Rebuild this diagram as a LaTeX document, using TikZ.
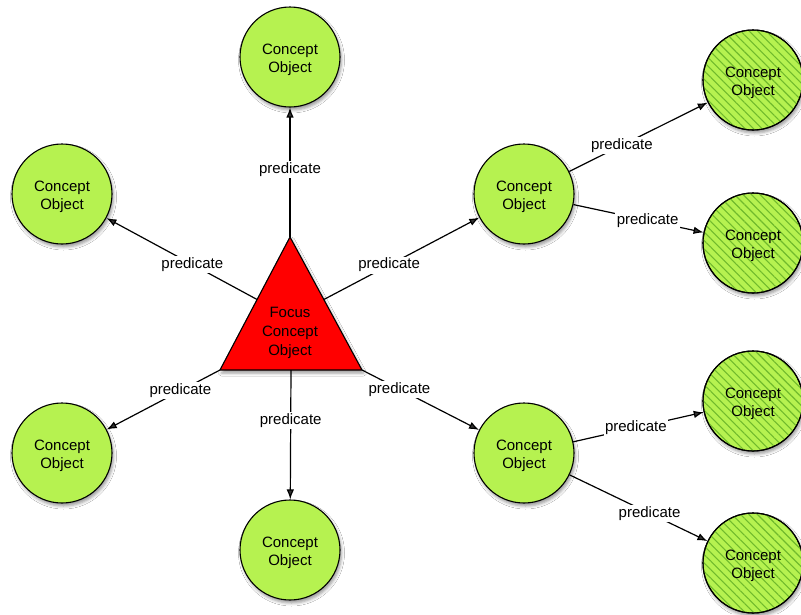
\documentclass[tikz,border=0pt]{standalone}
\usepackage{fontspec}
\setmainfont{Liberation Sans}
\usetikzlibrary{arrows.meta,shadows.blur,patterns.meta,calc}
\definecolor{lime}{RGB}{182,242,80}
\definecolor{hatch}{RGB}{112,186,44}
\definecolor{focusred}{RGB}{255,0,0}
\begin{document}
\begin{tikzpicture}[x=1pt,y=-1pt,
  txt/.style={font=\fontsize{15}{18}\selectfont},
  softshadow/.style={blur shadow={shadow xshift=1.5pt, shadow yshift=-3pt,
      shadow blur radius=3pt, shadow opacity=40}},
  concept/.style={circle, draw=black, line width=1.1pt, fill=lime,
      minimum size=100pt, inner sep=0pt, softshadow,
      label={[txt, align=center, yshift=-2.5pt]center:#1}},
  concept/.default={Concept\\Object},
  remote/.style={concept=#1,
      postaction={pattern={Lines[angle=-45,distance=6pt,line width=1.1pt]},
                  pattern color=hatch},
      postaction={draw=black, line width=1.1pt}},
  remote/.default={Concept\\Object},
  conn/.style={-{Latex[length=10pt,width=7.5pt]}, line width=1.2pt},
  lbl/.style={fill=white, inner sep=1.5pt, txt}]

\useasboundingbox (0,0) rectangle (801,614);
\fill[white] (0,0) rectangle (801,614);

% focus triangle
\coordinate (A) at (290,237);
\coordinate (B) at (220,370);
\coordinate (C) at (362,370);
\path[fill=focusred, draw=black, line width=1.1pt, line join=round, softshadow]
  (A) -- (B) -- (C) -- cycle;
\node[align=center, font=\fontsize{15}{19}\selectfont] (focus) at (290,333)
  {Focus\\Concept\\Object};
\coordinate (L) at ($(A)!0.47!(B)$);
\coordinate (R) at ($(A)!0.47!(C)$);
\coordinate (M) at ($(B)!0.5!(C)$);

% concept objects
\node[concept] (t)  at (290,57)  {};
\node[concept] (lu) at (62,194)  {};
\node[concept] (ll) at (62,453)  {};
\node[concept] (b)  at (290,550) {};
\node[concept] (ru) at (524,194) {};
\node[concept] (rl) at (524,453) {};

% second-level concept objects
\node[remote] (f1) at (753,80)  {};
\node[remote] (f2) at (753,243) {};
\node[remote] (f3) at (753,401) {};
\node[remote] (f4) at (753,563) {};

% predicates from the focus
\draw[conn] (A) -- node[lbl,pos=0.52]{predicate} (t);
\draw[conn] (L) -- node[lbl,pos=0.43]{predicate} (lu);
\draw[conn] (R) -- node[lbl,pos=0.42]{predicate} (ru);
\draw[conn] (B) -- node[lbl,pos=0.35]{predicate} (ll);
\draw[conn] (M) -- node[lbl,pos=0.39]{predicate} (b);
\draw[conn] (C) -- node[lbl,pos=0.32]{predicate} (rl);

% predicates to the second level
\draw[conn] (ru) -- node[lbl,pos=0.38]{predicate} (f1);
\draw[conn] (ru) -- node[lbl,pos=0.57]{predicate} (f2);
\draw[conn] (rl) -- node[lbl,pos=0.48]{predicate} (f3);
\draw[conn] (rl) -- node[lbl,pos=0.58]{predicate} (f4);

\end{tikzpicture}
\end{document}
